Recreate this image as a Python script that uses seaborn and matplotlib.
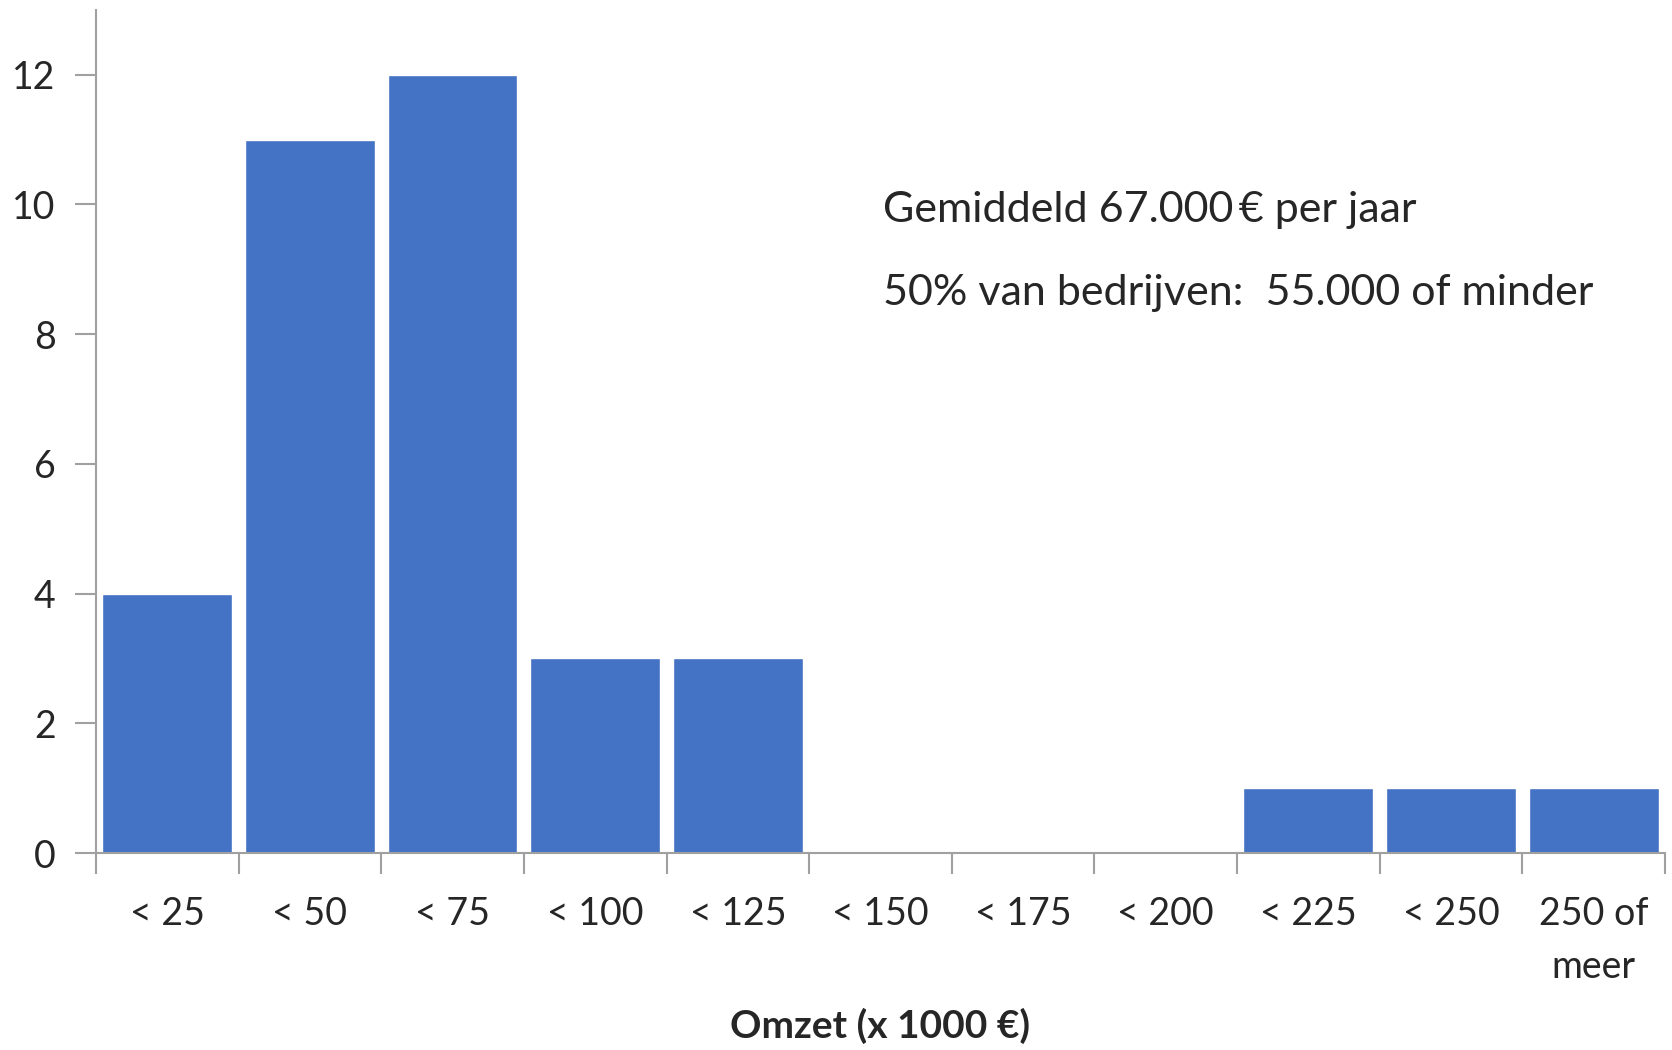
import matplotlib
matplotlib.use('Agg')
import matplotlib.pyplot as plt
import seaborn as sns
import pandas as pd
import numpy as np

# omzet klassen (x 1000 euro) en aantal bedrijven
klassen = ['< 25', '< 50', '< 75', '< 100', '< 125', '< 150', '< 175',
           '< 200', '< 225', '< 250', '250 of\nmeer']
aantal = [4, 11, 12, 3, 3, 0, 0, 0, 1, 1, 1]
y_ticks = [0, 2, 4, 6, 8, 10, 12]
notities = ['Gemiddeld 67.000\u2009€ per jaar', '50% van bedrijven:  55.000 of minder']

df = pd.DataFrame({'klasse': klassen, 'aantal': aantal})

sns.set_style('white')
plt.rcParams['font.family'] = ['Lato', 'DejaVu Sans']

fig = plt.figure(figsize=(16.72, 10.5), dpi=100)
ax = fig.add_axes([0.0574, 0.1876, 0.9384, 0.803])

sns.barplot(data=df, x='klasse', y='aantal', color='#4472C4', width=0.91,
            saturation=1, ax=ax)

ax.set_ylim(0, 13)
ax.set_xlim(-0.5, len(klassen) - 0.5)
ax.set_yticks(y_ticks)
ax.set_yticklabels([str(t) for t in y_ticks], fontsize=27)

# Excel-style: ticks on category boundaries, labels in the middle
ax.set_xticks(np.arange(-0.5, len(klassen)), minor=False)
ax.set_xticklabels([''] * (len(klassen) + 1))
ax.set_xticks(np.arange(len(klassen)), minor=True)
ax.set_xticklabels(klassen, minor=True, fontsize=27, linespacing=1.6, va='top')
ax.tick_params(axis='x', which='minor', bottom=True, length=0, pad=31)
ax.tick_params(axis='x', which='major', bottom=True, length=15, width=1.5,
               color='#A0A0A0', direction='out')
ax.tick_params(axis='y', left=True, length=15, width=1.5, color='#A0A0A0',
               direction='out', pad=14)

for side in ['top', 'right']:
    ax.spines[side].set_visible(False)
for side in ['left', 'bottom']:
    ax.spines[side].set_color('#A0A0A0')
    ax.spines[side].set_linewidth(1.5)

ax.set_ylabel('')
ax.set_xlabel('Omzet (x 1000 €)', fontsize=28, fontweight='bold', labelpad=16)

fig.text(0.528, 0.800, notities[0], fontsize=31, va='center', ha='left')
fig.text(0.528, 0.721, notities[1], fontsize=31, va='center', ha='left')

fig.savefig('out.png', dpi=100)
